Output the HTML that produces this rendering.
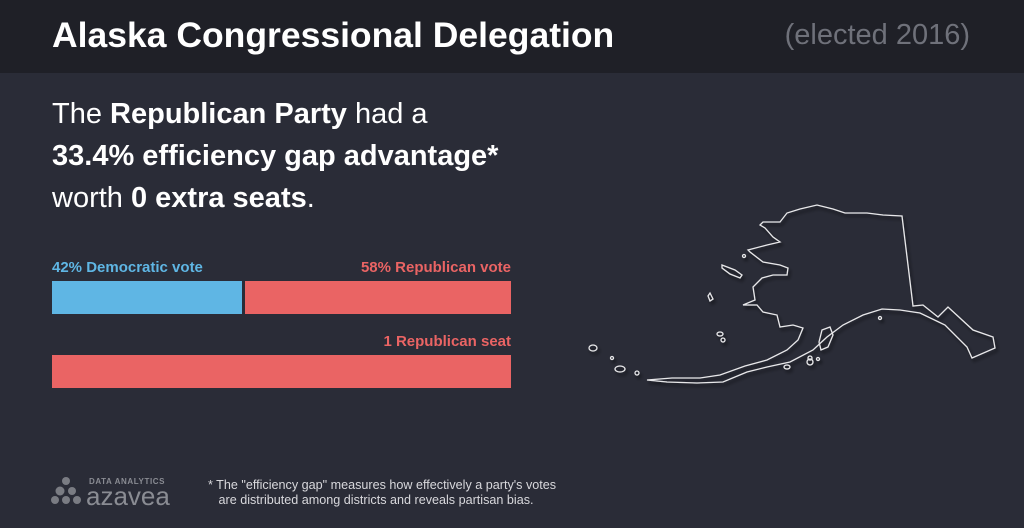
<!DOCTYPE html>
<html><head><style>
body{margin:0;width:1024px;height:528px;background:#2a2c37;font-family:"Liberation Sans",sans-serif;position:relative;overflow:hidden}
.hdr{position:absolute;left:0;top:0;width:1024px;height:73px;background:#1f2027}
.t{position:absolute;white-space:nowrap}
</style></head><body>
<div class="hdr"></div>
<div class="t" style="left:52px;top:15px;font-size:35.5px;font-weight:bold;color:#fff">Alaska Congressional Delegation</div>
<div class="t" style="right:54px;top:19px;font-size:29px;color:#6f717a">(elected 2016)</div>
<div class="t" style="left:52px;top:93px;font-size:29px;color:#fff;line-height:42px">The <b>Republican Party</b> had a<br><b>33.4% efficiency gap advantage*</b><br>worth <b>0 extra seats</b>.</div>
<div class="t" style="left:52px;top:259px;font-size:15px;font-weight:bold;color:#5fb6e4">42% Democratic vote</div>
<div class="t" style="right:513px;top:259px;font-size:15px;font-weight:bold;color:#ea6464">58% Republican vote</div>
<div style="position:absolute;left:52px;top:281px;width:190px;height:33px;background:#5fb6e4"></div>
<div style="position:absolute;left:245px;top:281px;width:266px;height:33px;background:#ea6464"></div>
<div class="t" style="right:513px;top:333px;font-size:15px;font-weight:bold;color:#ea6464">1 Republican seat</div>
<div style="position:absolute;left:52px;top:355px;width:459px;height:33px;background:#ea6464"></div>
<svg style="position:absolute;left:0;top:0" width="1024" height="528">
<defs><filter id="s"><feDropShadow dx="2" dy="3" stdDeviation="1.5" flood-color="#000" flood-opacity="0.6"/></filter></defs>
<g fill="none" stroke="#e8e8ea" stroke-width="1.3" filter="url(#s)">
<path d="M760,225 L763,222 780,222 787,213 800,209 817,205 833,209 845,213 867,213 883,215 902,216 913,306 923,305 938,317 948,307 973,330 993,337 995,348 972,358 967,347 945,325 920,313 900,310 882,309 863,315 843,325 827,337 813,350 790,362 767,367 747,372 723,382 697,383 667,382 647,380 672,378 700,378 720,375 745,366 767,360 787,350 798,340 803,328 793,325 780,327 777,315 763,312 757,305 743,305 755,300 753,287 762,278 773,275 787,275 788,268 780,265 763,262 750,252 748,250 767,245 780,242 773,237 765,228 Z"/>
<path d="M722,265 L735,270 742,275 740,278 730,274 722,268Z"/>
<path d="M710,293 l3,6 -3,2 -2,-5Z"/>
<path d="M822,330 l8,-3 3,8 -5,12 -7,3 -2,-8Z"/>
<ellipse cx="593" cy="348" rx="4" ry="3"/><ellipse cx="720" cy="334" rx="3" ry="2"/>
<ellipse cx="723" cy="340" rx="2" ry="2"/><ellipse cx="620" cy="369" rx="5" ry="3"/>
<ellipse cx="637" cy="373" rx="2" ry="2"/><ellipse cx="612" cy="358" rx="1.5" ry="1.5"/>
<ellipse cx="744" cy="256" rx="1.5" ry="1.5"/><ellipse cx="880" cy="318" rx="1.5" ry="1.5"/>
<ellipse cx="787" cy="367" rx="3" ry="2"/><ellipse cx="810" cy="362" rx="3" ry="3"/>
<ellipse cx="810" cy="358" rx="2" ry="2"/><ellipse cx="818" cy="359" rx="1.5" ry="1.5"/>
</g>
<g fill="#7a7c83">
<circle cx="66" cy="481" r="4"/><circle cx="60" cy="491" r="4.5"/><circle cx="72" cy="491" r="4"/>
<circle cx="55" cy="500" r="4"/><circle cx="66" cy="500" r="4"/><circle cx="77" cy="500" r="4"/>
</g>
</svg>
<div class="t" style="left:89px;top:477px;font-size:8px;font-weight:bold;color:#8a8c93;letter-spacing:0.6px">DATA ANALYTICS</div>
<div class="t" style="left:86px;top:481px;font-size:26px;color:#8a8c93">azavea</div>
<div class="t" style="left:208px;top:478px;font-size:12.6px;color:#d8d8dc;line-height:15px">* The "efficiency gap" measures how effectively a party's votes<br>&nbsp;&nbsp;&nbsp;are distributed among districts and reveals partisan bias.</div>
</body></html>
